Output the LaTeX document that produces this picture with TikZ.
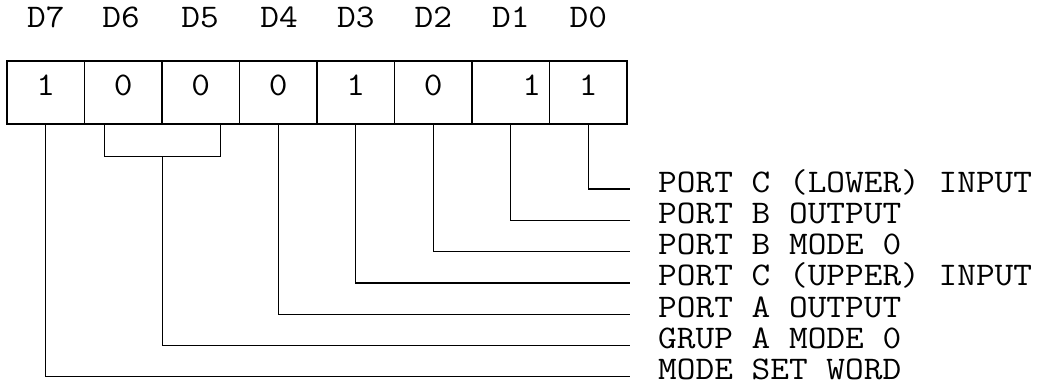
\documentclass[tikz,border=0pt]{standalone}
\usepackage{graphicx}
\newcommand\widetxt[1]{\scalebox{1.1}[1]{#1}}
\begin{document}
\begin{tikzpicture}[x=1pt,y=-1pt,
  txt/.style={font=\ttfamily\fontsize{33}{38}\selectfont, inner sep=0pt, text height=0.61em, text depth=0pt},
  cellbox/.style={txt, draw, line width=1.3pt, minimum width=77.5pt, minimum height=63pt},
  wire/.style={line width=1.3pt},
  portlbl/.style={txt, anchor=west, inner xsep=28pt}]
\useasboundingbox (0,0) rectangle (1045,391);
% bit labels
\node[txt] (d7) at (45.75,24) {\widetxt{D7}};
\node[txt] (d6) at (121,24) {\widetxt{D6}};
\node[txt] (d5) at (200,24) {\widetxt{D5}};
\node[txt] (d4) at (279,24) {\widetxt{D4}};
\node[txt] (d3) at (355.75,24) {\widetxt{D3}};
\node[txt] (d2) at (433.25,24) {\widetxt{D2}};
\node[txt] (d1) at (510.75,24) {\widetxt{D1}};
\node[txt] (d0) at (588.25,24) {\widetxt{D0}};
% cells
\node[cellbox] (c7) at (45.75,92.5) {\widetxt{1}};
\node[cellbox] (c6) at (123.25,92.5) {\widetxt{0}};
\node[cellbox] (c5) at (200.75,92.5) {\widetxt{0}};
\node[cellbox] (c4) at (278.25,92.5) {\widetxt{0}};
\node[cellbox] (c3) at (355.75,92.5) {\widetxt{1}};
\node[cellbox] (c2) at (433.25,92.5) {\widetxt{0}};
\node[cellbox] (c1) at (510.75,92.5) {\hspace*{42pt}\widetxt{1}};
\node[cellbox] (c0) at (588.25,92.5) {\widetxt{1}};
% port labels
\node[portlbl] (p0) at (630,189) {\widetxt{PORT C (LOWER) INPUT}};
\node[portlbl] (p1) at (630,220.3) {\widetxt{PORT B OUTPUT}};
\node[portlbl] (p2) at (630,251.6) {\widetxt{PORT B MODE 0}};
\node[portlbl] (p3) at (630,282.9) {\widetxt{PORT C (UPPER) INPUT}};
\node[portlbl] (p4) at (630,314.2) {\widetxt{PORT A OUTPUT}};
\node[portlbl] (p5) at (630,345.5) {\widetxt{GRUP A MODE 0}};
\node[portlbl] (p6) at (630,376.8) {\widetxt{MODE SET WORD}};
% wires
\draw[wire] (c0.south) |- (p0.west);
\draw[wire] (c1.south) |- (p1.west);
\draw[wire] (c2.south) |- (p2.west);
\draw[wire] (c3.south) |- (p3.west);
\draw[wire] (c4.south) |- (p4.west);
\draw[wire] ([xshift=-19pt]c6.south) -- ++(0,32) -| ([xshift=20pt]c5.south);
\coordinate (br) at ([yshift=-32pt]c6.south east);
\draw[wire] (br) |- (p5.west);
\draw[wire] (c7.south) |- (p6.west);
\end{tikzpicture}
\end{document}
